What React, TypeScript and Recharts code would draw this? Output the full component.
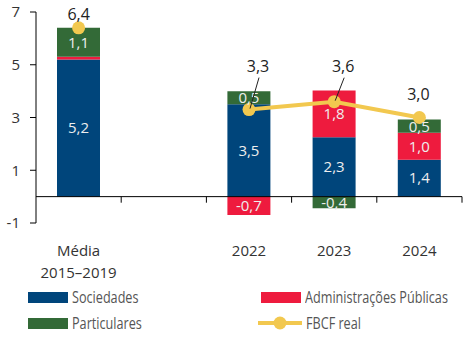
import { ComposedChart, Bar, Line, XAxis, YAxis, ReferenceLine, LabelList } from 'recharts'

const categories = ['Média\n2015–2019', ' ', '2022', '2023', '2024']
const sociedades = [5.2, null, 3.5, 2.25, 1.4]
const adminPublicas = [0.1, null, -0.7, 1.77, 1.02]
const particulares = [1.1, null, 0.5, -0.44, 0.5]
const fbcfReal = [6.4, null, 3.3, 3.6, 3.0]
const yTicks = [-1, 1, 3, 5, 7]

const COLORS = {
  sociedades: '#00457b',
  admin: '#ee1b3e',
  particulares: '#336a37',
  fbcf: '#f2c84f',
}

const FONT = "'Open Sans', 'DejaVu Sans', sans-serif"

const data = categories.map((cat, i) => ({
  cat,
  sociedades: sociedades[i],
  admin: adminPublicas[i],
  particulares: particulares[i],
  fbcf: fbcfReal[i],
}))

// how far above the dot each FBCF label sits, and whether it gets a leader line
const fbcfLabelPlacement: Record<string, { lift: number; dx: number; leader: boolean }> = {
  'Média\n2015–2019': { lift: 13, dx: 0, leader: false },
  '2022': { lift: 43, dx: 9, leader: true },
  '2023': { lift: 35, dx: 9, leader: true },
  '2024': { lift: 23, dx: -1, leader: false },
}

const fmt = (v: any) => {
  if (v === null || v === undefined) return ''
  if (Math.abs(v) < 0.2) return ''
  return (Math.round(Number(v) * 10 + (v > 0 ? 1e-9 : -1e-9)) / 10).toFixed(1).replace('.', ',')
}

function XTick(props: any) {
  const { x, y, payload } = props
  const lines = String(payload.value).split('\n')
  return (
    <text x={x} y={y + 25} textAnchor="middle" fill="#333" fontSize={15} fontFamily={FONT}>
      {lines.map((l, i) => (
        <tspan key={i} x={x} dy={i === 0 ? 0 : 22}>
          {l}
        </tspan>
      ))}
    </text>
  )
}

function FbcfLabel(props: any) {
  const { x, y, value, index } = props
  if (value === null || value === undefined) return null
  const p = fbcfLabelPlacement[categories[index]]
  if (!p) return null
  const lx = x + p.dx
  const ly = y - p.lift
  return (
    <g>
      {p.leader && <line x1={lx + 1} y1={ly + 11} x2={x + 1} y2={y - 1} stroke="#222" strokeWidth={1} />}
      <text x={lx} y={ly + 5} textAnchor="middle" fill="#222" fontSize={16} fontFamily={FONT}>
        {fmt(value)}
      </text>
    </g>
  )
}

const legendItems = [
  { name: 'Sociedades', color: COLORS.sociedades, kind: 'bar' },
  { name: 'Administrações Públicas', color: COLORS.admin, kind: 'bar' },
  { name: 'Particulares', color: COLORS.particulares, kind: 'bar' },
  { name: 'FBCF real', color: COLORS.fbcf, kind: 'line' },
]

function Legend() {
  return (
    <div style={{ position: 'absolute', left: 0, top: 284, width: 473 }}>
      {legendItems.map((item, i) => {
        const col = i % 2
        const row = Math.floor(i / 2)
        return (
          <div
            key={item.name}
            style={{
              position: 'absolute',
              left: col === 0 ? 28 : 258,
              top: row * 26,
              height: 26,
              display: 'flex',
              alignItems: 'center',
            }}
          >
            {item.kind === 'bar' ? (
              <div style={{ width: 40, height: 11, background: item.color, marginLeft: col === 0 ? 0 : 3 }} />
            ) : (
              <svg width={44} height={16}>
                <line x1={0} y1={8} x2={44} y2={8} stroke={item.color} strokeWidth={4} />
                <circle cx={22} cy={8} r={6.5} fill={item.color} />
              </svg>
            )}
            <span
              style={{
                marginLeft: 4,
                fontFamily: FONT,
                fontSize: 16,
                color: '#555',
                whiteSpace: 'nowrap',
                display: 'inline-block',
                transform: 'scaleX(0.79)',
                transformOrigin: 'left center',
              }}
            >
              {item.name}
            </span>
          </div>
        )
      })}
    </div>
  )
}

export default function App() {
  const barLabel = { position: 'center' as const, fill: '#eeeeee', fontSize: 15, fontFamily: FONT, formatter: fmt }
  return (
    <div style={{ position: 'absolute', left: 0, top: 0, width: 473, height: 354, background: '#fff' }}>
      <ComposedChart
        width={473}
        height={354}
        data={data}
        stackOffset="sign"
        margin={{ top: 12, right: 11, bottom: 69, left: 0 }}
        barCategoryGap={0}
      >
        <XAxis dataKey="cat" axisLine={false} tickLine={false} height={62} tick={<XTick />} interval={0} />
        <YAxis
          domain={[-1, 7]}
          ticks={yTicks}
          width={36}
          axisLine={{ stroke: '#000' }}
          tickLine={{ stroke: '#000' }}
          tickSize={6}
          tickMargin={10}
          tick={{ fill: '#333', fontSize: 15, fontFamily: FONT }}
          interval={0}
        />
        <Bar dataKey="sociedades" stackId="s" fill={COLORS.sociedades} barSize={43} isAnimationActive={false}>
          <LabelList dataKey="sociedades" {...barLabel} />
        </Bar>
        <Bar dataKey="admin" stackId="s" fill={COLORS.admin} barSize={43} isAnimationActive={false}>
          <LabelList dataKey="admin" {...barLabel} />
        </Bar>
        <Bar dataKey="particulares" stackId="s" fill={COLORS.particulares} barSize={43} isAnimationActive={false}>
          <LabelList dataKey="particulares" {...barLabel} />
        </Bar>
        <ReferenceLine y={0} stroke="#000" strokeWidth={1} />
        {categories.map((c) => (
          <ReferenceLine
            key={c}
            position="end"
            segment={[
              { x: c, y: 0 },
              { x: c, y: -0.23 },
            ]}
            stroke="#000"
            strokeWidth={1}
          />
        ))}
        <Line
          dataKey="fbcf"
          stroke={COLORS.fbcf}
          strokeWidth={4}
          dot={{ r: 6.5, fill: COLORS.fbcf, stroke: 'none' }}
          activeDot={false}
          connectNulls={false}
          isAnimationActive={false}
        >
          <LabelList dataKey="fbcf" content={<FbcfLabel />} />
        </Line>
      </ComposedChart>
      <Legend />
    </div>
  )
}
